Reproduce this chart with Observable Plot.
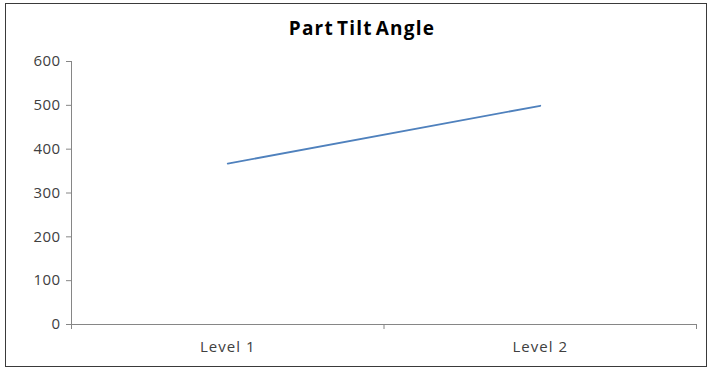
<!DOCTYPE html>
<html>
<head>
<meta charset="utf-8">
<script src="https://cdn.jsdelivr.net/npm/d3@7"></script>
<script src="https://cdn.jsdelivr.net/npm/@observablehq/plot@0.6"></script>
<style>
  html, body { margin: 0; padding: 0; background: #fff; }
  #wrap { position: relative; width: 712px; height: 370px; overflow: hidden; }
  #frame { position: absolute; left: 5px; top: 3px; width: 700px; height: 362px; border: 1px solid #3a3a3a; }
  #title { position: absolute; left: 0; top: 15px; width: 724px; text-align: center;
           font: bold 19px "Open Sans", sans-serif; color: #000; letter-spacing: 1.2px; word-spacing: -3px; }
  #chart { position: absolute; left: 0; top: 0; }
  .ylab text { font-size: 15px; letter-spacing: 0.4px; }
  .xlab text { font-size: 15px; letter-spacing: 1px; }
</style>
</head>
<body>
<div id="wrap">
  <div id="frame"></div>
  <div id="title">Part Tilt Angle</div>
  <div id="chart"></div>
</div>
<script>
const categories = ["Level 1", "Level 2"];
const values = [367, 499];
const yTicks = [0, 100, 200, 300, 400, 500, 600];

const data = categories.map((c, i) => ({ category: c, pos: i + 0.5, value: values[i] }));
const boundaries = d3.range(categories.length + 1);
const centers = categories.map((c, i) => i + 0.5);

const chart = Plot.plot({
  width: 712,
  height: 370,
  marginLeft: 71,
  marginRight: 16,
  marginTop: 61,
  marginBottom: 46,
  style: { fontFamily: "'Open Sans', sans-serif", fontSize: "15px", color: "#404040", background: "transparent" },
  x: { type: "linear", domain: [0, categories.length], axis: null },
  y: { domain: [0, 600], axis: null },
  marks: [
    Plot.axisY({ ticks: yTicks, tickSize: 5, tickPadding: 6, stroke: "#868686", fill: "#404040", label: null, className: "ylab" }),
    Plot.axisX({ ticks: boundaries, tickSize: 5, tickFormat: () => "", stroke: "#868686", label: null }),
    Plot.axisX({ ticks: centers, tickSize: 0, tickPadding: 17, tickFormat: (d) => categories[Math.round(d - 0.5)], fill: "#404040", label: null, className: "xlab" }),
    Plot.ruleX([0], { stroke: "#868686" }),
    Plot.ruleY([0], { stroke: "#868686" }),
    Plot.line(data, { x: "pos", y: "value", stroke: "#4f81bd", strokeWidth: 1.8 })
  ]
});
document.getElementById("chart").appendChild(chart);
</script>
</body>
</html>
